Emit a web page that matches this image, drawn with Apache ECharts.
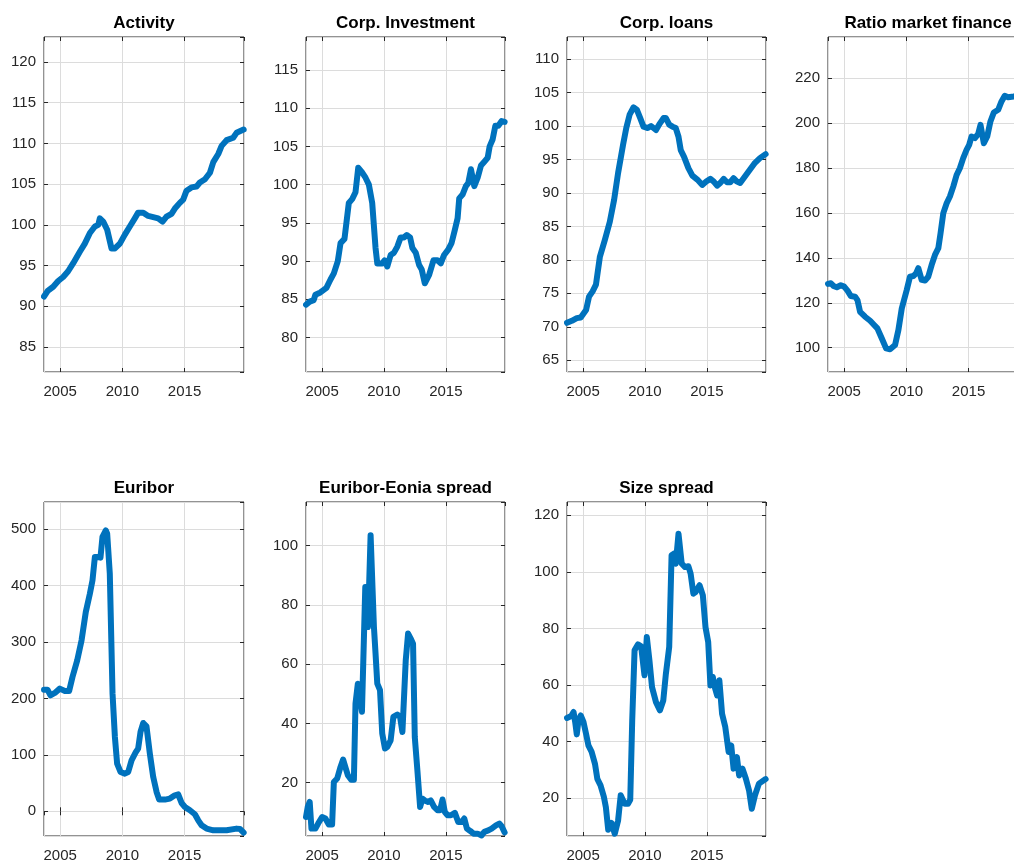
<!DOCTYPE html>
<html>
<head>
<meta charset="utf-8">
<script src="https://cdn.jsdelivr.net/npm/echarts@6/dist/echarts.min.js"></script>
<style>
html, body { margin: 0; padding: 0; background: #ffffff; }
#chart { width: 1014px; height: 860px; }
</style>
</head>
<body>
<div id="chart"></div>
<script>
// Quarterly macro-financial indicators, [year, value]
const activity = [
  [2003.70, 91.2], [2004.00, 91.9], [2004.44, 92.4], [2004.84, 93.1], [2005.24, 93.6],
  [2005.64, 94.3], [2006.05, 95.3], [2006.58, 96.7], [2006.98, 97.7], [2007.39, 99.0],
  [2007.79, 99.8], [2008.06, 100.0], [2008.19, 100.8], [2008.46, 100.4], [2008.78, 99.4],
  [2009.13, 97.1], [2009.40, 97.1], [2009.80, 97.7], [2010.20, 98.8], [2010.60, 99.8],
  [2011.00, 100.8], [2011.27, 101.5], [2011.68, 101.5], [2012.08, 101.1], [2012.48, 100.95],
  [2012.88, 100.8], [2013.23, 100.4], [2013.55, 101.0], [2013.95, 101.35], [2014.22, 102.0],
  [2014.62, 102.7], [2014.89, 103.1], [2015.16, 104.2], [2015.56, 104.6], [2015.96, 104.7],
  [2016.23, 105.2], [2016.64, 105.6], [2017.04, 106.4], [2017.31, 107.7], [2017.71, 108.7],
  [2017.98, 109.7], [2018.38, 110.4], [2018.91, 110.7], [2019.18, 111.3], [2019.75, 111.7]
];

const corpInvestment = [
  [2003.70, 84.3], [2004.00, 84.7], [2004.32, 84.9], [2004.46, 85.6], [2004.86, 85.9],
  [2005.35, 86.5], [2005.68, 87.6], [2005.95, 88.4], [2006.27, 90.0], [2006.49, 92.35],
  [2006.81, 92.9], [2007.16, 97.6], [2007.43, 98.1], [2007.70, 99.0], [2007.92, 102.2],
  [2008.19, 101.7], [2008.51, 100.9], [2008.78, 100.0], [2009.05, 97.6], [2009.32, 91.7],
  [2009.46, 89.7], [2009.86, 89.7], [2010.05, 90.1], [2010.27, 89.3], [2010.54, 90.8],
  [2010.81, 91.1], [2011.08, 91.9], [2011.35, 93.1], [2011.62, 93.1], [2011.84, 93.4],
  [2012.11, 93.1], [2012.30, 91.7], [2012.57, 91.1], [2012.84, 89.5], [2013.05, 88.9],
  [2013.30, 87.1], [2013.65, 88.2], [2014.00, 90.1], [2014.32, 90.1], [2014.59, 89.7],
  [2014.86, 90.8], [2015.19, 91.5], [2015.46, 92.35], [2015.73, 94.1], [2015.95, 95.6],
  [2016.08, 98.2], [2016.35, 98.7], [2016.62, 99.8], [2016.81, 100.2], [2017.03, 102.0],
  [2017.30, 99.8], [2017.57, 100.9], [2017.84, 102.5], [2018.11, 103.0], [2018.38, 103.5],
  [2018.54, 105.0], [2018.78, 105.9], [2019.00, 107.7], [2019.24, 107.7], [2019.51, 108.3],
  [2019.75, 108.2]
];

const corpLoans = [
  [2003.70, 70.6], [2004.09, 70.9], [2004.49, 71.3], [2004.81, 71.4], [2005.24, 72.5],
  [2005.48, 74.5], [2005.77, 75.3], [2006.04, 76.3], [2006.36, 80.5], [2006.76, 83.0],
  [2007.16, 85.7], [2007.51, 89.0], [2007.83, 93.0], [2008.23, 97.2], [2008.49, 99.7],
  [2008.76, 101.7], [2009.08, 102.8], [2009.35, 102.4], [2009.61, 101.2], [2009.88, 99.9],
  [2010.23, 99.7], [2010.49, 100.0], [2010.89, 99.4], [2011.21, 100.4], [2011.51, 101.2],
  [2011.69, 101.2], [2011.96, 100.2], [2012.23, 99.9], [2012.49, 99.7], [2012.71, 98.4],
  [2012.89, 96.4], [2013.16, 95.4], [2013.51, 93.7], [2013.83, 92.6], [2014.23, 92.0],
  [2014.63, 91.2], [2014.95, 91.7], [2015.29, 92.1], [2015.56, 91.7], [2015.83, 91.1],
  [2016.09, 91.5], [2016.36, 92.1], [2016.63, 91.6], [2016.89, 91.6], [2017.16, 92.2],
  [2017.43, 91.7], [2017.69, 91.5], [2018.09, 92.5], [2018.49, 93.5], [2018.89, 94.5],
  [2019.29, 95.2], [2019.75, 95.8]
];

const ratioMarketFinance = [
  [2003.70, 128.4], [2003.93, 128.7], [2004.14, 127.5], [2004.41, 126.9], [2004.73, 127.8],
  [2005.00, 127.2], [2005.27, 125.4], [2005.53, 123.0], [2005.88, 122.7], [2006.07, 121.2],
  [2006.28, 116.0], [2006.68, 113.8], [2007.09, 112.0], [2007.41, 110.1], [2007.67, 108.6],
  [2008.02, 104.2], [2008.37, 99.7], [2008.69, 99.3], [2009.09, 101.2], [2009.36, 107.9],
  [2009.63, 117.5], [2010.03, 125.7], [2010.29, 131.6], [2010.56, 131.9], [2010.78, 133.1],
  [2010.96, 135.4], [2011.23, 130.2], [2011.50, 129.9], [2011.76, 131.6], [2012.03, 136.8],
  [2012.30, 141.3], [2012.57, 144.3], [2012.75, 151.0], [2012.97, 159.9], [2013.24, 164.3],
  [2013.50, 167.3], [2013.77, 171.7], [2014.04, 176.9], [2014.30, 179.9], [2014.57, 184.4],
  [2014.84, 188.1], [2015.05, 190.3], [2015.24, 194.0], [2015.51, 193.3], [2015.78, 195.2],
  [2015.96, 199.2], [2016.23, 191.0], [2016.50, 194.0], [2016.76, 200.7], [2017.03, 204.7],
  [2017.38, 205.9], [2017.65, 209.6], [2017.91, 212.1], [2018.18, 211.5], [2018.64, 211.8],
  [2019.10, 212.6], [2019.75, 213.2]
];

const euribor = [
  [2003.70, 215.7], [2003.98, 215.7], [2004.22, 205.7], [2004.57, 209.8], [2004.97, 217.5],
  [2005.38, 213.4], [2005.72, 213.4], [2005.99, 238.2], [2006.37, 267.7], [2006.72, 303.2],
  [2007.06, 353.4], [2007.39, 385.9], [2007.60, 409.6], [2007.79, 450.9], [2007.98, 450.9],
  [2008.24, 449.8], [2008.40, 486.4], [2008.67, 498.2], [2008.78, 492.3], [2008.99, 421.4],
  [2009.21, 208.6], [2009.40, 131.8], [2009.58, 84.5], [2009.85, 69.7], [2010.20, 66.8],
  [2010.47, 69.7], [2010.74, 90.4], [2011.09, 105.2], [2011.27, 111.1], [2011.46, 140.7],
  [2011.68, 156.6], [2011.94, 150.7], [2012.21, 102.2], [2012.48, 60.9], [2012.75, 34.3],
  [2012.96, 20.7], [2013.42, 20.7], [2013.82, 22.5], [2014.22, 28.4], [2014.49, 30.1],
  [2014.76, 14.8], [2015.03, 7.7], [2015.43, 1.8], [2015.83, -5.3], [2016.10, -16.0],
  [2016.37, -24.8], [2016.77, -30.7], [2017.31, -33.7], [2018.38, -33.7], [2019.18, -30.7],
  [2019.45, -31.3], [2019.75, -38.0]
];

const euriborEoniaSpread = [
  [2003.70, 8.4], [2003.84, 11.8], [2004.00, 13.5], [2004.14, 4.5], [2004.46, 4.5],
  [2004.68, 6.2], [2005.00, 8.4], [2005.27, 7.9], [2005.54, 5.9], [2005.81, 5.9],
  [2005.95, 20.2], [2006.22, 21.4], [2006.49, 25.3], [2006.70, 27.8], [2006.84, 27.8],
  [2007.08, 22.5], [2007.35, 21.0], [2007.57, 21.0], [2007.70, 46.7], [2007.89, 53.4],
  [2008.05, 54.0], [2008.22, 43.9], [2008.38, 43.3], [2008.49, 86.0], [2008.59, 86.0],
  [2008.70, 72.5], [2008.81, 72.5], [2008.92, 103.5], [2009.05, 103.5], [2009.19, 72.5],
  [2009.32, 63.5], [2009.46, 53.4], [2009.68, 51.2], [2009.86, 36.6], [2010.08, 31.5],
  [2010.27, 32.1], [2010.54, 34.3], [2010.76, 42.2], [2011.08, 43.0], [2011.30, 42.2],
  [2011.49, 37.1], [2011.62, 37.1], [2011.76, 61.3], [2011.95, 70.3], [2012.16, 68.6],
  [2012.35, 66.9], [2012.49, 35.4], [2012.70, 24.2], [2012.92, 11.8], [2013.11, 14.6],
  [2013.30, 14.0], [2013.57, 13.5], [2013.78, 14.0], [2014.05, 11.8], [2014.32, 10.7],
  [2014.54, 10.7], [2014.73, 14.3], [2014.92, 10.1], [2015.14, 9.0], [2015.41, 9.0],
  [2015.73, 9.8], [2016.00, 6.7], [2016.27, 6.7], [2016.49, 7.9], [2016.70, 4.5],
  [2016.97, 3.7], [2017.24, 2.8], [2017.57, 2.8], [2017.89, 2.2], [2018.11, 3.4],
  [2018.43, 3.9], [2018.70, 4.5], [2019.05, 5.6], [2019.32, 6.2], [2019.51, 5.3],
  [2019.75, 3.2]
];

const sizeSpread = [
  [2003.70, 48.4], [2004.04, 49.1], [2004.23, 50.5], [2004.36, 47.0], [2004.49, 42.6],
  [2004.63, 47.6], [2004.81, 49.3], [2005.03, 47.0], [2005.24, 42.8], [2005.43, 38.7],
  [2005.69, 36.4], [2005.96, 32.2], [2006.15, 26.9], [2006.41, 24.6], [2006.68, 20.5],
  [2006.84, 16.9], [2007.03, 8.9], [2007.29, 11.3], [2007.56, 7.5], [2007.83, 12.2],
  [2008.04, 21.1], [2008.36, 18.1], [2008.63, 18.1], [2008.81, 19.5], [2008.97, 47.6],
  [2009.16, 72.3], [2009.43, 74.4], [2009.69, 73.7], [2009.96, 63.5], [2010.15, 77.0],
  [2010.36, 68.8], [2010.57, 59.3], [2010.89, 54.0], [2011.21, 51.1], [2011.48, 54.6],
  [2011.69, 64.0], [2011.96, 73.5], [2012.15, 105.9], [2012.36, 106.5], [2012.49, 102.9],
  [2012.71, 113.5], [2012.81, 113.5], [2012.97, 102.9], [2013.24, 101.7], [2013.51, 102.0],
  [2013.69, 99.4], [2013.91, 92.3], [2014.09, 92.9], [2014.41, 95.3], [2014.68, 91.7],
  [2014.89, 80.5], [2015.11, 75.2], [2015.29, 59.9], [2015.48, 62.9], [2015.64, 59.3],
  [2015.83, 56.4], [2016.01, 61.7], [2016.23, 49.9], [2016.49, 45.2], [2016.76, 36.4],
  [2016.97, 38.7], [2017.16, 30.5], [2017.43, 34.6], [2017.61, 28.1], [2017.88, 30.5],
  [2018.15, 27.0], [2018.41, 22.8], [2018.63, 16.3], [2018.89, 21.1], [2019.21, 25.2],
  [2019.75, 26.8]
];

const titles = ['Activity', 'Corp. Investment', 'Corp. loans', 'Ratio market finance',
                'Euribor', 'Euribor-Eonia spread', 'Size spread'];
const seriesData = [activity, corpInvestment, corpLoans, ratioMarketFinance,
                    euribor, euriborEoniaSpread, sizeSpread];
// y-axis limits and tick steps per panel
const yLimits = [[81.93, 123.07], [75.5, 119.3], [63.25, 113.3], [89.2, 238.3],
                 [-43.8, 548.4], [2.0, 114.7], [6.7, 124.7]];
const yTickSteps = [5, 5, 5, 20, 100, 20, 20];
const xLimits = [2003.70, 2019.78];
const xTickStep = 5;

// subplot placement (pixels)
const colLeft = [44, 306, 567, 828];
const colWidth = [200, 199, 199, 200];
const rowTop = [37, 502];
const rowHeight = [335, 334];

const FONT = '"Liberation Sans", Arial, Helvetica, sans-serif';
const INK = '#262626';
const GRID = '#dcdcdc';
const LINE = '#0072BD';

const grids = [], xAxes = [], yAxes = [], series = [], graphics = [];

seriesData.forEach((data, i) => {
  const row = i < 4 ? 0 : 1;
  const col = i < 4 ? i : i - 4;
  const left = colLeft[col], width = colWidth[col];
  const top = rowTop[row], height = rowHeight[row];

  grids.push({
    left: left, top: top, width: width, height: height,
    show: true, borderColor: INK, borderWidth: 1, backgroundColor: '#ffffff',
    containLabel: false, outerBoundsMode: 'none'
  });

  const xBase = {
    type: 'value', gridIndex: i,
    min: xLimits[0], max: xLimits[1],
    minInterval: xTickStep, maxInterval: xTickStep,
    axisLine: { show: false }
  };
  xAxes.push(Object.assign({}, xBase, {
    position: 'bottom',
    axisTick: { show: true, inside: true, length: 4, lineStyle: { color: INK } },
    axisLabel: {
      show: true, margin: 12, color: INK, fontSize: 15, fontFamily: FONT,
      showMinLabel: false, showMaxLabel: false,
      formatter: v => String(v)
    },
    splitLine: { show: true, lineStyle: { color: GRID, width: 1 } }
  }));
  xAxes.push(Object.assign({}, xBase, {
    position: 'top',
    axisTick: { show: true, inside: true, length: 4, lineStyle: { color: INK } },
    axisLabel: { show: false },
    splitLine: { show: false }
  }));

  const yBase = {
    type: 'value', gridIndex: i,
    min: yLimits[i][0], max: yLimits[i][1],
    minInterval: yTickSteps[i], maxInterval: yTickSteps[i],
    axisLine: { show: false }
  };
  yAxes.push(Object.assign({}, yBase, {
    position: 'left',
    axisTick: { show: true, inside: true, length: 4, lineStyle: { color: INK } },
    axisLabel: {
      show: true, margin: 8, color: INK, fontSize: 15, fontFamily: FONT,
      showMinLabel: false, showMaxLabel: false,
      formatter: v => String(v)
    },
    splitLine: { show: true, lineStyle: { color: GRID, width: 1 } }
  }));
  yAxes.push(Object.assign({}, yBase, {
    position: 'right',
    axisTick: { show: true, inside: true, length: 4, lineStyle: { color: INK } },
    axisLabel: { show: false },
    splitLine: { show: false }
  }));

  series.push({
    type: 'line', name: titles[i], data: data,
    xAxisIndex: 2 * i, yAxisIndex: 2 * i,
    showSymbol: false, symbol: 'none', smooth: false, clip: true,
    lineStyle: { color: LINE, width: 6, join: 'round', cap: 'round' },
    emphasis: { disabled: true }
  });

  graphics.push({
    type: 'text',
    x: left + width / 2,
    y: top - 14,
    style: {
      text: titles[i],
      fill: '#000000',
      font: 'bold 17px ' + FONT,
      textAlign: 'center',
      textVerticalAlign: 'middle'
    },
    silent: true
  });
});

const chart = echarts.init(document.getElementById('chart'), null, { renderer: 'canvas' });
chart.setOption({
  animation: false,
  backgroundColor: '#ffffff',
  grid: grids,
  xAxis: xAxes,
  yAxis: yAxes,
  series: series,
  graphic: graphics,
  tooltip: { show: false }
});
</script>
</body>
</html>
